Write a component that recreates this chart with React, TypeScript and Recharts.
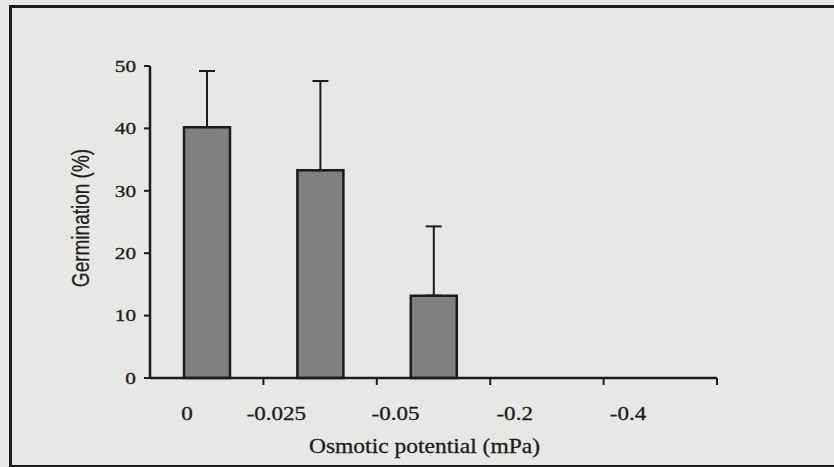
import React from "react";
import { BarChart, Bar, XAxis, YAxis, ErrorBar, Label } from "recharts";

const categories = ["0", "-0.025", "-0.05", "-0.2", "-0.4"];
const germination = [40.2, 33.3, 13.2, 0, 0];
const errorUpper = [9.0, 14.3, 11.1, 0, 0];
const yTicks = [0, 10, 20, 30, 40, 50];

const data = categories.map((c, i) => ({
  name: c,
  value: germination[i],
  err: [0, errorUpper[i]],
}));

const W = 834;
const H = 467;
const M = { top: 66, right: 117, bottom: 0, left: 90 };
const Y_AXIS_W = 60;
const PLOT_W = W - M.left - M.right - Y_AXIS_W;
const BAND = PLOT_W / categories.length;
const INK = "#1c1c1c";
const SERIF = "'Liberation Serif', 'Times New Roman', serif";
const SANS = "'Liberation Sans', Arial, sans-serif";

const XTick = (props: any) => {
  const { x, y, payload } = props;
  return (
    <g>
      <line x1={x + BAND / 2} y1={y} x2={x + BAND / 2} y2={y + 7} stroke={INK} strokeWidth={2} />
      <text
        transform={`translate(${x - 14},${y + 42}) scale(1.28,1)`}
        textAnchor="end"
        fontFamily={SERIF}
        fontSize={18}
        fill={INK}
        stroke={INK}
        strokeWidth={0.3}
      >
        {payload.value}
      </text>
    </g>
  );
};

const YTick = (props: any) => {
  const { x, y, payload } = props;
  return (
    <text
      transform={`translate(${x - 6},${y}) scale(1.25,1)`}
      textAnchor="end"
      dominantBaseline="central"
      fontFamily={SERIF}
      fontSize={17}
      fill={INK}
      stroke={INK}
      strokeWidth={0.3}
    >
      {payload.value}
    </text>
  );
};

const XTitle = (props: any) => {
  const vb = props.viewBox || {};
  const cx = vb.x + vb.width / 2 - 9;
  return (
    <text
      transform={`translate(${cx},${vb.y + 75}) scale(1.12,1)`}
      textAnchor="middle"
      fontFamily={SERIF}
      fontSize={21}
      fill={INK}
      stroke={INK}
      strokeWidth={0.3}
    >
      Osmotic potential (mPa)
    </text>
  );
};

const YTitle = (props: any) => {
  const vb = props.viewBox || {};
  const cy = vb.y + vb.height / 2 - 4;
  return (
    <text
      transform={`translate(${M.left - 1},${cy}) scale(1.25,1) rotate(-90)`}
      textAnchor="middle"
      fontFamily={SANS}
      fontSize={19}
      fill={INK}
      stroke={INK}
      strokeWidth={0.2}
    >
      {"Germination  (%)"}
    </text>
  );
};

export default function App() {
  return (
    <div
      style={{
        position: "absolute",
        left: 0,
        top: 0,
        width: W,
        height: H,
        background: "#e7e7e5",
        overflow: "hidden",
      }}
    >
      <div
        style={{
          position: "absolute",
          left: 9,
          top: 5,
          width: W,
          height: 457,
          borderLeft: `3px solid ${INK}`,
          borderTop: `3px solid ${INK}`,
          borderBottom: `3px solid ${INK}`,
        }}
      />
      <div style={{ position: "absolute", left: 0, top: 0 }}>
        <BarChart width={W} height={H} data={data} margin={M}>
          <XAxis
            dataKey="name"
            height={H - 378}
            tickLine={false}
            tickSize={0}
            tickMargin={0}
            axisLine={{ stroke: INK, strokeWidth: 2.5 }}
            tick={<XTick />}
            interval={0}
          >
            <Label content={<XTitle />} />
          </XAxis>
          <YAxis
            width={Y_AXIS_W}
            domain={[0, 50]}
            ticks={yTicks}
            interval={0}
            tickSize={6}
            tickLine={{ stroke: INK, strokeWidth: 2 }}
            axisLine={{ stroke: INK, strokeWidth: 2.5 }}
            tick={<YTick />}
          >
            <Label content={<YTitle />} />
          </YAxis>
          <Bar
            dataKey="value"
            barSize={46}
            fill="#808080"
            stroke={INK}
            strokeWidth={2.5}
            isAnimationActive={false}
          >
            <ErrorBar dataKey="err" width={8} stroke={INK} strokeWidth={2} direction="y" />
          </Bar>
        </BarChart>
      </div>
    </div>
  );
}
